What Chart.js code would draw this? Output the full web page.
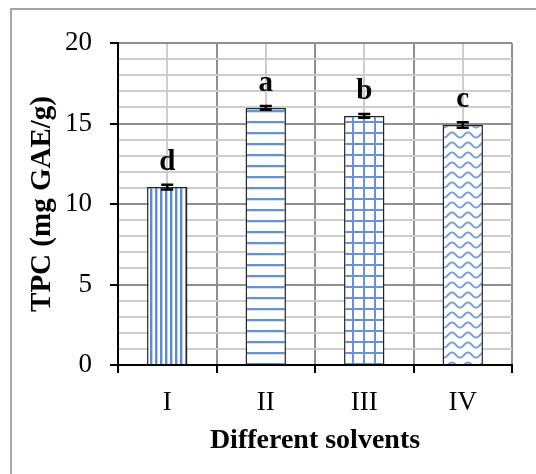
<!DOCTYPE html>
<html>
<head>
<meta charset="utf-8">
<script src="https://cdn.jsdelivr.net/npm/chart.js@4/dist/chart.umd.min.js"></script>
<style>
  html, body { margin: 0; padding: 0; background: #fff; }
  #wrap { position: relative; width: 536px; height: 474px; overflow: hidden; }
  #frame { position: absolute; left: 10px; top: 8px; width: 600px; height: 600px; border: 2px solid #a6a6a6; }
  canvas { position: absolute; left: 0; top: 0; }
</style>
</head>
<body>
<div id="wrap">
  <div id="frame"></div>
  <canvas id="chart" width="536" height="474"></canvas>
</div>
<script>
const solvents = ["I", "II", "III", "IV"];
const tpc = [11.05, 15.97, 15.47, 14.9];
const tpcErr = [0.15, 0.12, 0.12, 0.17];
const letters = ["d", "a", "b", "c"];
const yMin = 0, yMax = 20, yMajor = 5;

const serif = "'Liberation Serif', 'Times New Roman', serif";
const canvas = document.getElementById("chart");
const ctx = canvas.getContext("2d");

// fill patterns for the four bars
function makePattern(w, h, paint) {
  const c = document.createElement("canvas");
  c.width = w; c.height = h;
  const g = c.getContext("2d");
  g.fillStyle = "#fff";
  g.fillRect(0, 0, w, h);
  paint(g, w, h);
  return ctx.createPattern(c, "repeat");
}

const vStripes = makePattern(5, 8, (g, w, h) => {
  g.fillStyle = "#5b8bd0"; g.fillRect(0, 0, 2, h);
  g.fillStyle = "#bcd0ec"; g.fillRect(2, 0, 1, h);
});
const hStripes = makePattern(8, 11, (g, w, h) => {
  g.fillStyle = "#6592d3"; g.fillRect(0, 0, w, 2);
  g.fillStyle = "#d3e0f2"; g.fillRect(0, 2, w, 1);
});
const grid = makePattern(11, 11, (g, w, h) => {
  g.fillStyle = "#6892d2";
  g.fillRect(0, 0, 2, h);
  g.fillRect(0, 0, w, 2);
});
const waves = makePattern(16, 10, (g, w, h) => {
  g.strokeStyle = "#7aa1d8";
  g.lineWidth = 2;
  g.beginPath();
  for (let x = -1; x <= w + 1; x += 0.5) {
    const y = 5 - 2.6 * Math.sin(2 * Math.PI * x / w);
    if (x === -1) g.moveTo(x, y); else g.lineTo(x, y);
  }
  g.stroke();
});

// error bars and significance letters, placed through the scales
const barExtras = {
  id: "barExtras",
  afterDatasetsDraw(chart) {
    const y = chart.scales.y;
    const meta = chart.getDatasetMeta(0);
    const c = chart.ctx;
    c.save();
    c.strokeStyle = "#000";
    c.lineWidth = 2.5;
    meta.data.forEach((bar, i) => {
      const top = y.getPixelForValue(tpc[i] + tpcErr[i]);
      const bot = y.getPixelForValue(tpc[i] - tpcErr[i]);
      c.beginPath();
      c.moveTo(bar.x, top); c.lineTo(bar.x, bot);
      c.moveTo(bar.x - 6, top); c.lineTo(bar.x + 6, top);
      c.moveTo(bar.x - 6, bot); c.lineTo(bar.x + 6, bot);
      c.stroke();
    });
    c.fillStyle = "#000";
    c.font = "bold 29px " + serif;
    c.textAlign = "center";
    c.textBaseline = "alphabetic";
    meta.data.forEach((bar, i) => {
      c.fillText(letters[i], bar.x, y.getPixelForValue(tpc[i] + tpcErr[i]) - 15);
    });
    c.restore();
  }
};

new Chart(ctx, {
  type: "bar",
  data: {
    labels: solvents,
    datasets: [{
      data: tpc,
      xAxisID: "x",
      yAxisID: "y",
      backgroundColor: [vStripes, hStripes, grid, waves],
      borderColor: "#222",
      borderWidth: 1.5,
      barPercentage: 0.41,
      categoryPercentage: 1
    }]
  },
  options: {
    responsive: false,
    animation: false,
    devicePixelRatio: 1,
    layout: { padding: { left: 10, top: 43, right: 24, bottom: 0 } },
    plugins: { legend: { display: false }, tooltip: { enabled: false } },
    scales: {
      x: {
        type: "category",
        position: "bottom",
        offset: true,
        afterFit: s => { s.height = 109; },
        grid: {
          offset: true,
          lineWidth: 2,
          color: c => c.index === 0 ? "rgba(0,0,0,0)" : "#8f8f8f",
          tickColor: "#000",
          tickWidth: 2,
          tickLength: 8
        },
        border: { display: true, color: "#000", width: 2 },
        ticks: { color: "#000", padding: 14, font: { family: serif, size: 27 } },
        title: {
          display: true,
          text: "Different solvents",
          color: "#000",
          padding: { top: 0, bottom: 16 },
          font: { family: serif, size: 28, weight: "bold" }
        }
      },
      // minor vertical grid lines through the category centres
      xMinor: {
        type: "category",
        position: "bottom",
        offset: true,
        afterFit: s => { s.height = 0; },
        grid: { offset: false, lineWidth: 2, color: "#cdcdcd", drawTicks: false },
        border: { display: false },
        ticks: { display: false }
      },
      y: {
        min: yMin,
        max: yMax,
        afterFit: s => { s.width = 108; },
        grid: {
          lineWidth: 2,
          color: c => c.tick.value === yMin ? "rgba(0,0,0,0)" :
                      (c.tick.value % yMajor === 0 ? "#8f8f8f" : "#cdcdcd"),
          tickColor: c => c.tick.value % yMajor === 0 ? "#000" : "rgba(0,0,0,0)",
          tickWidth: 2,
          tickLength: 8
        },
        border: { display: true, color: "#000", width: 2 },
        ticks: {
          stepSize: 1,
          autoSkip: false,
          color: "#000",
          padding: 18,
          font: { family: serif, size: 27 },
          callback: v => v % yMajor === 0 ? v : ""
        },
        title: {
          display: true,
          text: "TPC (mg GAE/g)",
          color: "#000",
          padding: { top: 15, bottom: 0 },
          font: { family: serif, size: 29, weight: "bold" }
        }
      }
    }
  },
  plugins: [barExtras]
});
</script>
</body>
</html>
